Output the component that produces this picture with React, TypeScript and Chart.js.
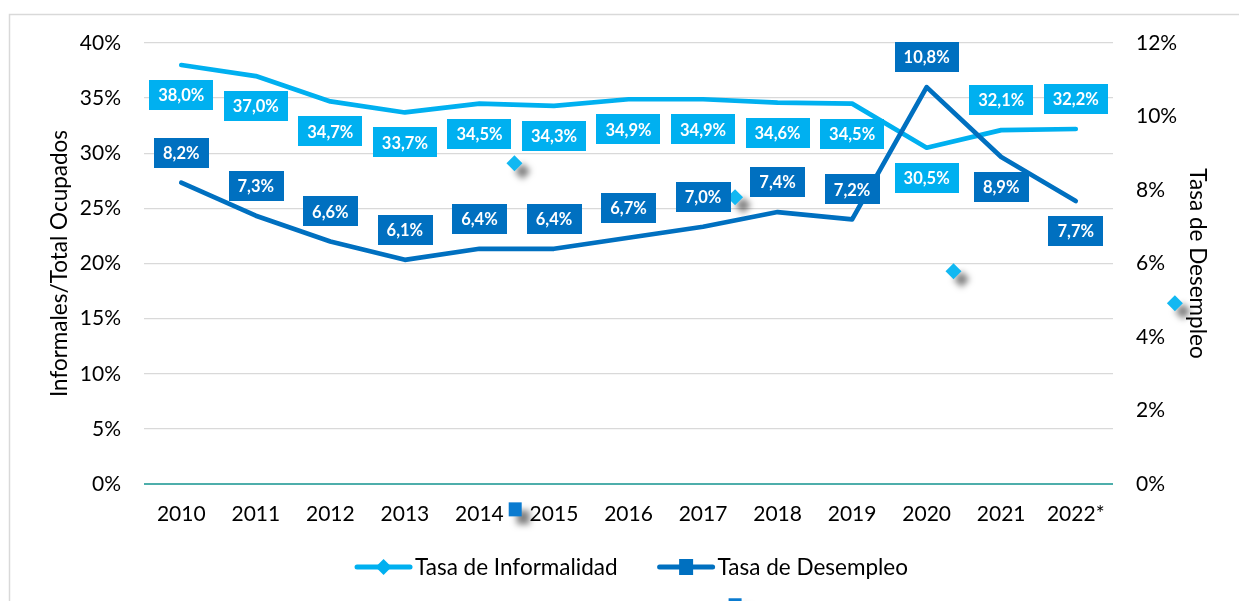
import React, { useEffect, useRef } from "react";
import { Chart, registerables } from "chart.js";

Chart.register(...registerables);

// ---- Data ----
const categories = ["2010", "2011", "2012", "2013", "2014", "2015", "2016", "2017", "2018", "2019", "2020", "2021", "2022*"];
const informalidad = [38.0, 37.0, 34.7, 33.7, 34.5, 34.3, 34.9, 34.9, 34.6, 34.5, 30.5, 32.1, 32.2];
const desempleo = [8.2, 7.3, 6.6, 6.1, 6.4, 6.4, 6.7, 7.0, 7.4, 7.2, 10.8, 8.9, 7.7];
const informalidadLabelSide = ["below", "below", "below", "below", "below", "below", "below", "below", "below", "below", "below", "above", "above"];
const desempleoLabelSide = ["above", "above", "above", "above", "above", "above", "above", "above", "above", "above", "above", "below", "below"];
const leftTicks = { min: 0, max: 40, step: 5 };
const rightTicks = { min: 0, max: 12, step: 2 };
// stray marker artefacts in the original picture (category position, left-axis %)
const strayDiamondX = [4.47, 7.43, 10.36, 13.33];
const strayDiamondY = [29.1, 26.0, 19.3, 16.4];
const straySquareX = [4.48, 7.43];
const straySquareY = [-2.3, -11.0];

const LIGHT = "#00B0F0";
const DARK = "#0070C0";
const FONT = "Lato, 'Open Sans', sans-serif";

const framePlugin = {
  id: "frame",
  beforeDraw(chart: any) {
    const ctx = chart.ctx;
    ctx.save();
    ctx.strokeStyle = "#D9D9D9";
    ctx.lineWidth = 1.5;
    ctx.strokeRect(9.5, 14.5, chart.width + 20, chart.height + 20);
    ctx.restore();
  },
};

const strayPlugin = {
  id: "strayMarkers",
  afterDatasetsDraw(chart: any) {
    const ctx = chart.ctx;
    const xs = chart.scales.x;
    const ys = chart.scales.y;
    ctx.save();
    ctx.shadowColor = "rgba(0,0,0,0.5)";
    ctx.shadowBlur = 6;
    ctx.shadowOffsetX = 8;
    ctx.shadowOffsetY = 8;
    ctx.fillStyle = "#12B8F2";
    strayDiamondX.forEach((xv, i) => {
      const px = xs.getPixelForValue(xv);
      const py = ys.getPixelForValue(strayDiamondY[i]);
      ctx.beginPath();
      ctx.moveTo(px, py - 8);
      ctx.lineTo(px + 8, py);
      ctx.lineTo(px, py + 8);
      ctx.lineTo(px - 8, py);
      ctx.closePath();
      ctx.fill();
    });
    ctx.fillStyle = "#0A7BD0";
    straySquareX.forEach((xv, i) => {
      const px = xs.getPixelForValue(xv);
      const py = ys.getPixelForValue(straySquareY[i]);
      ctx.fillRect(px - 6.5, py - 7, 13, 14);
    });
    ctx.restore();
  },
};

const boxLabelPlugin = {
  id: "boxLabels",
  afterDatasetsDraw(chart: any) {
    const ctx = chart.ctx;
    chart.data.datasets.forEach((ds: any, di: number) => {
      const side = ds.labelSide;
      if (!side) return;
      const meta = chart.getDatasetMeta(di);
      meta.data.forEach((pt: any, i: number) => {
        const text = (ds.data[i] as number).toFixed(1).replace(".", ",") + "%";
        ctx.save();
        ctx.font = `bold 16.5px ${FONT}`;
        const tw = ctx.measureText(text).width;
        const w = tw + 18;
        const h = 30;
        const cy = pt.y + (side[i] === "above" ? -30 : 30);
        ctx.fillStyle = ds.borderColor;
        ctx.fillRect(Math.round(pt.x - w / 2), Math.round(cy - h / 2), Math.round(w), h);
        ctx.fillStyle = "#FFFFFF";
        ctx.textAlign = "center";
        ctx.textBaseline = "middle";
        ctx.fillText(text, pt.x, cy + 1);
        ctx.restore();
      });
    });
  },
};

const legendPlugin = {
  id: "lineLegend",
  afterDraw(chart: any) {
    const ctx = chart.ctx;
    const items = chart.data.datasets.filter((d: any) => d.legendMarker);
    ctx.save();
    ctx.font = `22.5px ${FONT}`;
    const lineW = 57;
    const gapText = 3;
    const gapItem = 40;
    const widths = items.map((d: any) => lineW + gapText + ctx.measureText(d.label).width);
    const total = widths.reduce((a: number, b: number) => a + b, 0) + gapItem * (items.length - 1);
    const area = chart.chartArea;
    let x = (area.left + area.right) / 2 + 3 - total / 2;
    const y = 567;
    items.forEach((d: any, i: number) => {
      ctx.strokeStyle = d.borderColor;
      ctx.lineWidth = 5;
      ctx.lineCap = "round";
      ctx.beginPath();
      ctx.moveTo(x + 2, y);
      ctx.lineTo(x + lineW - 2, y);
      ctx.stroke();
      ctx.fillStyle = d.borderColor;
      const cx = x + lineW / 2;
      if (d.legendMarker === "diamond") {
        ctx.beginPath();
        ctx.moveTo(cx, y - 8);
        ctx.lineTo(cx + 8, y);
        ctx.lineTo(cx, y + 8);
        ctx.lineTo(cx - 8, y);
        ctx.closePath();
        ctx.fill();
      } else {
        ctx.fillRect(cx - 7, y - 8, 14, 16);
      }
      ctx.fillStyle = "#000";
      ctx.textAlign = "left";
      ctx.textBaseline = "middle";
      ctx.fillText(d.label, x + lineW + gapText, y + 1);
      x += widths[i] + gapItem;
    });
    ctx.restore();
  },
};

export default function App() {
  const ref = useRef<HTMLCanvasElement | null>(null);

  useEffect(() => {
    if (!ref.current) return;
    const tickFont = { family: FONT, size: 21 };
    const titleFont = { family: FONT, size: 22.5 };
    const chart = new Chart(ref.current, {
      type: "line",
      data: {
        labels: categories,
        datasets: [
          {
            label: "Tasa de Informalidad",
            data: informalidad,
            yAxisID: "y",
            borderColor: LIGHT,
            backgroundColor: LIGHT,
            borderWidth: 4.7,
            pointRadius: 0,
            tension: 0,
            borderCapStyle: "round",
            borderJoinStyle: "round",
            order: 1,
            labelSide: informalidadLabelSide,
            legendMarker: "diamond",
          } as any,
          {
            label: "Tasa de Desempleo",
            data: desempleo,
            yAxisID: "y1",
            borderColor: DARK,
            backgroundColor: DARK,
            borderWidth: 4.7,
            pointRadius: 0,
            tension: 0,
            borderCapStyle: "round",
            borderJoinStyle: "round",
            order: 0,
            labelSide: desempleoLabelSide,
            legendMarker: "square",
          } as any,
        ],
      },
      options: {
        animation: false,
        responsive: true,
        maintainAspectRatio: false,
        events: [],
        layout: { padding: { left: 0, right: 0, top: 43, bottom: 0 } },
        plugins: {
          legend: { display: false },
          tooltip: { enabled: false },
          title: { display: false },
        },
        scales: {
          x: {
            type: "category",
            offset: true,
            grid: { display: false, drawTicks: false },
            border: { display: false },
            ticks: { font: tickFont, color: "#000", padding: 18, maxRotation: 0, autoSkip: false },
            afterFit: (s: any) => {
              s.height = 117;
            },
          },
          y: {
            type: "linear",
            position: "left",
            min: leftTicks.min,
            max: leftTicks.max,
            ticks: {
              stepSize: leftTicks.step,
              font: tickFont,
              color: "#000",
              padding: 23,
              callback: (v: any) => `${v}%`,
            },
            grid: {
              drawTicks: false,
              color: (c: any) => (c.tick && c.tick.value === 0 ? "#4DAEAB" : "#D9D9D9"),
              lineWidth: (c: any) => (c.tick && c.tick.value === 0 ? 2 : 1.3),
            },
            border: { display: false },
            title: {
              display: true,
              text: "Informales/Total Ocupados",
              font: titleFont,
              color: "#000",
              padding: { top: 46, bottom: 0 },
            },
            afterFit: (s: any) => {
              s.width = 144;
            },
          },
          y1: {
            type: "linear",
            position: "right",
            min: rightTicks.min,
            max: rightTicks.max,
            ticks: {
              stepSize: rightTicks.step,
              font: tickFont,
              color: "#000",
              padding: 23,
              callback: (v: any) => `${v}%`,
            },
            grid: { drawOnChartArea: false, drawTicks: false },
            border: { display: false },
            title: {
              display: true,
              text: "Tasa de Desempleo",
              font: titleFont,
              color: "#000",
              padding: { top: 28, bottom: 0 },
            },
            afterFit: (s: any) => {
              s.width = 126;
            },
          },
        },
      } as any,
      plugins: [framePlugin, strayPlugin, boxLabelPlugin, legendPlugin],
    });
    return () => chart.destroy();
  }, []);

  return (
    <div style={{ position: "absolute", left: 0, top: 0, width: 1239, height: 601, background: "#fff" }}>
      <canvas ref={ref} />
    </div>
  );
}
